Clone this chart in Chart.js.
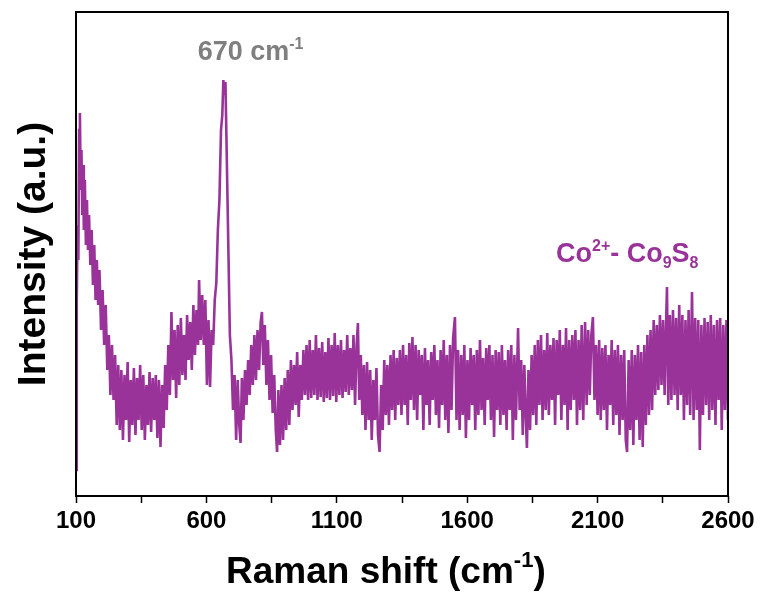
<!DOCTYPE html>
<html>
<head>
<meta charset="utf-8">
<title>Raman spectrum Co9S8</title>
<script src="https://cdn.jsdelivr.net/npm/chart.js@4.4.1/dist/chart.umd.min.js"></script>
<style>
  body { margin: 0; background: #fff; }
  #wrap { width: 764px; height: 594px; }
</style>
</head>
<body>
<div id="wrap"><canvas id="ramanChart" width="764" height="594"></canvas></div>
<script>
// Raman shift (cm-1) and intensity (a.u.)
const ramanShift = [
  100,103,106,109,112,115,118,121,124,127,130,134,138,142,146,150,155,160,165,170,175,180,185,190,196,202,208,214,220,226,232,238,244,250,
  256,262,268,274,280,286,292,298,304,310,316,322,328,334,340,346,352,358,364,370,376,382,388,394,400,406,412,418,424,430,436,442,448,
  454,460,466,472,478,484,490,496,502,508,514,520,526,532,538,544,550,556,562,568,572,578,584,590,596,602,608,614,620,626,632,638,
  644,650,656,661,665,669,673,677,681,685,690,696,
  702,708,714,720,726,731,736,742,748,754,760,766,772,778,784,790,796,802,808,813,818,824,830,836,842,848,854,860,866,871,876,882,888,894,900,906,912,918,924,930,936,942,948,954,960,966,972,978,
  984,990,996,1002,1008,1014,1020,1026,1032,1038,1044,1050,1056,1062,1068,1074,1080,1086,1092,1098,1104,1110,1116,1122,1128,1134,1140,1146,1152,1158,1164,1170,1176,1181,
  1186,1192,1198,1204,1210,1216,1222,1228,1234,1240,1246,1252,1258,1264,1270,1276,1282,1288,1294,1300,1306,1312,1318,1324,1330,1336,
  1342,1348,1354,1360,1366,1372,1378,1384,1390,1396,1402,1408,1414,1420,1426,1432,1438,1444,1450,1456,1462,1468,1474,1480,1486,1492,1498,1504,1510,1516,1522,1528,1534,1540,1546,1553,
  1559,1565,1571,1577,1583,1589,1595,1601,1607,1613,1619,1625,1631,1637,1643,1649,1655,1661,1667,1673,1679,1685,1691,1697,1703,1709,1715,1721,1727,1733,1739,1745,1751,1757,1763,1769,1775,1781,1787,1795,1801,1807,1813,1819,1825,1829,1835,1841,1847,
  1853,1859,1865,1871,1877,1883,1889,1895,1901,1907,1913,1919,1925,1931,1937,1943,1949,1955,1961,1967,1973,1979,1985,1991,1997,2003,2009,2015,2021,2027,2033,2039,2045,2052,2058,2064,2070,2076,2082,2088,2094,2100,2106,
  2112,2118,2124,2130,2136,2142,2148,2154,2160,2166,2172,2178,2184,2190,2196,2202,2208,2213,2219,2225,2231,2237,2243,2249,2255,2261,2267,2273,2279,2285,2291,2297,2303,2309,2315,2321,2327,2333,
  2339,2345,2351,2357,2362,2366,2371,2377,2383,2389,2395,2401,2407,2413,2419,2425,2431,2437,2443,2449,2455,2462,2468,2474,2480,2486,2492,2498,2504,2510,2516,2522,2528,2534,2540,2546,2552,2558,2564,2570,2576,2582,2588,2594,2600
];
const intensity = [
  26,196,271,236,366,383,306,346,281,331,266,316,251,296,246,281,231,266,211,251,196,236,191,226,166,206,151,191,126,161,101,151,96,141,
  71,131,66,126,56,121,76,134,54,116,71,128,61,118,76,131,66,121,56,111,71,124,64,118,76,121,58,116,49,111,68,131,86,
  151,101,184,116,166,98,171,111,178,121,161,116,181,136,174,126,191,141,186,151,216,156,201,151,196,111,176,109,166,151,196,213,
  266,296,366,381,416,401,414,356,296,236,161,136,
  86,121,56,116,71,53,118,76,126,91,136,101,151,111,161,116,166,126,174,184,131,171,111,156,96,141,83,121,66,44,106,51,111,56,118,66,126,71,136,86,131,91,144,79,131,96,146,101,
  151,96,156,98,146,101,161,96,148,99,154,94,144,98,158,96,151,100,163,94,151,101,156,98,146,104,161,101,148,106,161,91,151,173,
  96,141,81,131,66,134,76,126,56,116,76,128,61,44,111,66,136,81,131,71,141,86,146,76,138,91,
  146,81,151,91,141,71,153,96,159,86,151,76,146,101,141,66,148,91,136,71,144,96,151,81,136,68,146,91,156,76,141,63,151,86,158,179,
  76,146,66,141,81,151,58,136,76,148,91,141,66,146,81,156,86,138,71,148,96,151,76,141,59,146,86,144,71,151,81,136,66,146,86,151,56,141,76,168,86,136,61,131,76,48,126,66,141,
  81,151,71,156,91,161,76,146,86,163,81,151,96,158,71,156,101,166,76,151,91,168,66,156,86,161,96,166,71,156,86,171,76,174,91,166,101,161,179,96,151,81,156,
  76,148,86,151,66,141,91,156,71,146,81,151,61,141,76,146,56,44,136,66,146,51,141,76,151,56,144,49,151,71,161,81,166,86,176,101,171,106,
  181,111,176,101,166,209,91,181,96,186,101,178,86,191,101,181,76,176,91,186,81,204,76,178,86,176,46,171,81,178,91,174,76,181,86,171,71,176,96,178,66,171,86,176,76
];

const majorTicks = [100, 600, 1100, 1600, 2100, 2600];
const minorTicks = [350, 850, 1350, 1850, 2350];

const FONT = '"Liberation Sans", Arial, Helvetica, sans-serif';
const lineColor = '#993399';

// draws text with superscript / subscript parts, left aligned at baseline
function drawRich(ctx, left, baseline, parts, size, color) {
  let cx = left;
  ctx.fillStyle = color;
  ctx.textBaseline = 'alphabetic';
  ctx.textAlign = 'left';
  parts.forEach(p => {
    const small = p.sup || p.sub;
    const s = small ? Math.round(size * 0.6) : size;
    ctx.font = `bold ${s}px ${FONT}`;
    let dy = 0;
    if (p.sup) dy = -size * 0.42;
    if (p.sub) dy = size * 0.22;
    ctx.fillText(p.text, cx, baseline + dy);
    cx += ctx.measureText(p.text).width;
  });
}

const framePlugin = {
  id: 'framePlugin',
  afterDraw(chart) {
    const {ctx, chartArea: a, scales: {x}} = chart;
    ctx.save();
    ctx.strokeStyle = '#000';
    ctx.lineWidth = 2;
    ctx.strokeRect(a.left, a.top, a.right - a.left, a.bottom - a.top);

    // peak label
    const px = x.getPixelForValue(670);
    drawRich(ctx, px - 27, 60, [{text: '670 cm'}, {text: '-1', sup: true}], 27, '#7f7f7f');

    // sample label
    drawRich(ctx, 556, 262, [
      {text: 'Co'}, {text: '2+', sup: true}, {text: '- Co'}, {text: '9', sub: true},
      {text: 'S'}, {text: '8', sub: true}
    ], 27, lineColor);

    // x axis title
    drawRich(ctx, 226, 583, [{text: 'Raman shift (cm'}, {text: '-1', sup: true}, {text: ')'}], 37, '#000');
    ctx.restore();
  }
};

const ctx = document.getElementById('ramanChart').getContext('2d');
new Chart(ctx, {
  type: 'line',
  data: {
    datasets: [{
      data: ramanShift.map((v, i) => ({x: v, y: intensity[i]})),
      borderColor: lineColor,
      borderWidth: 2.6,
      borderJoinStyle: 'miter',
      pointRadius: 0,
      tension: 0,
      fill: false
    }]
  },
  options: {
    responsive: false,
    animation: false,
    devicePixelRatio: 1,
    layout: { padding: { left: 0, top: 12, right: 36, bottom: 0 } },
    plugins: { legend: { display: false }, tooltip: { enabled: false } },
    scales: {
      x: {
        type: 'linear',
        min: 100,
        max: 2600,
        afterFit: scale => { scale.height = 98; },
        afterBuildTicks: scale => {
          scale.ticks = majorTicks.concat(minorTicks).sort((a, b) => a - b).map(v => ({value: v}));
        },
        ticks: {
          autoSkip: false,
          maxRotation: 0,
          padding: 4,
          color: '#000',
          font: { family: FONT, size: 24, weight: 'bold' },
          callback: v => majorTicks.includes(v) ? String(v) : ''
        },
        grid: {
          display: true,
          drawOnChartArea: false,
          drawTicks: true,
          tickLength: 7,
          tickWidth: 1.5,
          tickColor: '#000'
        },
        border: { display: false }
      },
      y: {
        min: 0,
        max: 484,
        afterFit: scale => { scale.width = 76; },
        ticks: { display: false },
        grid: { display: false, drawTicks: false },
        border: { display: false },
        title: {
          display: true,
          text: 'Intensity (a.u.)',
          color: '#000',
          padding: { top: 11, bottom: 0 },
          font: { family: FONT, size: 39, weight: 'bold' }
        }
      }
    }
  },
  plugins: [framePlugin]
});
</script>
</body>
</html>
